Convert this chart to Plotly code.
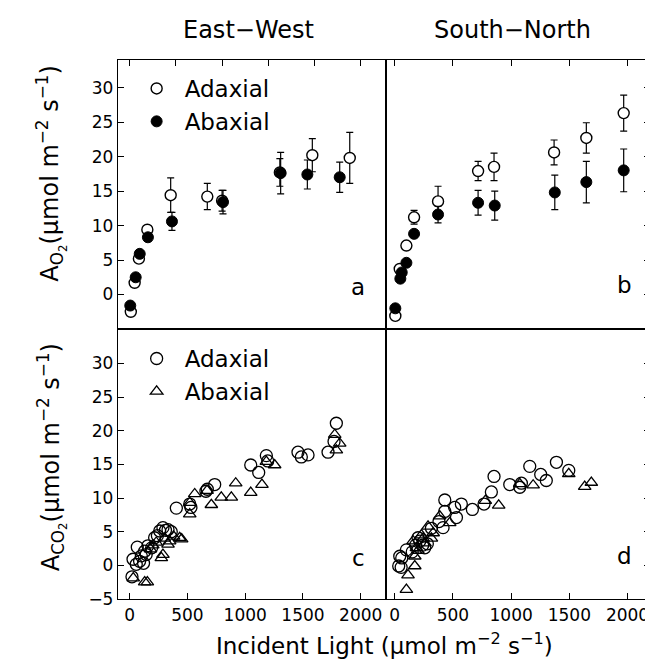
import plotly.graph_objects as go

# ---------------- data ----------------
# Panel a: East-West, O2 evolution
a_ad_x = [10, 43, 80, 153, 355, 672, 800, 1300, 1581, 1905]
a_ad_y = [-2.5, 1.7, 5.2, 9.4, 14.4, 14.2, 13.6, 17.7, 20.2, 19.8]
a_ad_err = [0, 0, 0, 0, 2.5, 1.9, 1.5, 2.0, 2.4, 3.7]
a_ab_x = [5, 52, 87, 158, 366, 808, 1307, 1538, 1818]
a_ab_y = [-1.6, 2.5, 5.9, 8.3, 10.6, 13.4, 17.6, 17.4, 17.0]
a_ab_err = [0, 0, 0, 0, 1.3, 1.7, 3.0, 2.1, 2.2]

# Panel b: South-North, O2 evolution
b_ad_x = [5, 43, 100, 166, 372, 716, 853, 1369, 1646, 1967]
b_ad_y = [-3.1, 3.7, 7.1, 11.2, 13.5, 17.9, 18.5, 20.6, 22.7, 26.3]
b_ad_err = [0, 0, 0, 1.0, 2.2, 1.4, 2.0, 1.8, 2.2, 2.6]
b_ab_x = [5, 48, 60, 100, 166, 372, 716, 859, 1375, 1646, 1967]
b_ab_y = [-2.0, 2.3, 3.2, 4.6, 8.8, 11.6, 13.3, 12.9, 14.8, 16.3, 18.0]
b_ab_err = [0, 0, 0, 0, 0, 1.2, 1.8, 2.1, 2.5, 3.0, 3.1]

# Panel c: East-West, CO2 uptake
c_ad_x = [20, 29, 57, 66, 86, 101, 120, 130, 143, 158, 190, 216, 240, 260, 288, 310,
          332, 360, 404, 520, 530, 660, 672, 736, 1048, 1117, 1183, 1195, 1457, 1486,
          1544, 1717, 1769, 1789]
c_ad_y = [-1.7, 0.9, 0.15, 2.7, 0.6, 1.4, 0.3, 2.1, 1.6, 2.9, 2.6, 4.1, 4.4, 5.1, 5.6, 5.2,
          5.3, 5.0, 8.5, 9.1, 8.6, 11.0, 11.3, 12.0, 14.9, 13.8, 16.3, 15.5, 16.8, 16.1,
          16.4, 16.8, 18.4, 21.1]
c_ab_x = [31, 130, 153, 180, 200, 230, 274, 288, 300, 332, 346, 380, 433, 450, 520, 520,
          563, 670, 707, 793, 880, 918, 1048, 1145, 1183, 1255, 1775, 1789, 1818]
c_ab_y = [-1.9, -2.5, -2.5, 2.4, 3.0, 3.4, 1.1, 1.6, 4.0, 3.1, 3.6, 4.3, 4.1, 3.9, 7.6, 9.3,
          10.6, 11.1, 9.0, 10.1, 10.1, 12.2, 10.8, 12.0, 15.4, 14.9, 19.4, 17.1, 18.1]

# Panel d: South-North, CO2 uptake
d_ad_x = [34, 43, 55, 60, 100, 150, 180, 200, 215, 240, 258, 280, 315, 380, 415, 430, 430,
          515, 530, 572, 667, 767, 830, 853, 988, 1074, 1088, 1160, 1254, 1302, 1389, 1495]
d_ad_y = [-0.1, 1.35, -0.3, 1.1, 2.3, 2.0, 3.0, 4.1, 3.6, 3.0, 2.6, 3.2, 5.5, 6.5, 5.6, 8.0, 9.7,
          8.6, 7.1, 9.1, 8.3, 9.1, 10.9, 13.2, 12.0, 11.6, 12.2, 14.7, 13.5, 12.6, 15.3, 14.1]
d_ab_x = [100, 114, 172, 172, 157, 186, 200, 229, 244, 260, 286, 315, 330, 386, 472, 778, 893,
          1074, 1189, 1495, 1632, 1689]
d_ab_y = [-3.6, -1.45, -0.1, 1.35, 3.6, 2.6, 2.2, 4.5, 4.0, 3.3, 5.8, 4.0, 4.8, 7.3, 6.3, 9.6, 8.9,
          12.1, 11.9, 13.6, 11.7, 12.3]

series_names = ["Adaxial", "Abaxial"]
col_titles = ["East\u2212West", "South\u2212North"]
panel_letters = ["a", "b", "c", "d"]
y_ticks_top = [0, 5, 10, 15, 20, 25, 30]
y_ticks_bottom = [-5, 0, 5, 10, 15, 20, 25, 30]
x_ticks_bottom = [0, 500, 1000, 1500, 2000]
x_ticks_top_left = [0, 400, 800, 1200, 1600, 2000]
x_ticks_top_right = [0, 500, 1000, 1500, 2000]

FONT = "DejaVu Sans"
BLACK = "black"

fig = go.Figure()

def err(arr):
    return dict(type="data", array=arr, visible=True, color=BLACK, thickness=1.2, width=3.5)

# panel a
fig.add_trace(go.Scatter(x=a_ad_x, y=a_ad_y, mode="markers", name=series_names[0],
                         error_y=err(a_ad_err), xaxis="x", yaxis="y", legend="legend",
                         marker=dict(symbol="circle", size=11, color="white",
                                     line=dict(color=BLACK, width=1.4))))
fig.add_trace(go.Scatter(x=a_ab_x, y=a_ab_y, mode="markers", name=series_names[1],
                         error_y=err(a_ab_err), xaxis="x", yaxis="y", legend="legend",
                         marker=dict(symbol="circle", size=11, color=BLACK,
                                     line=dict(color=BLACK, width=1))))
# panel b
fig.add_trace(go.Scatter(x=b_ad_x, y=b_ad_y, mode="markers", showlegend=False,
                         error_y=err(b_ad_err), xaxis="x2", yaxis="y2",
                         marker=dict(symbol="circle", size=11, color="white",
                                     line=dict(color=BLACK, width=1.4))))
fig.add_trace(go.Scatter(x=b_ab_x, y=b_ab_y, mode="markers", showlegend=False,
                         error_y=err(b_ab_err), xaxis="x2", yaxis="y2",
                         marker=dict(symbol="circle", size=11, color=BLACK,
                                     line=dict(color=BLACK, width=1))))
# panel c
fig.add_trace(go.Scatter(x=c_ad_x, y=c_ad_y, mode="markers", name=series_names[0],
                         xaxis="x3", yaxis="y3", legend="legend2",
                         marker=dict(symbol="circle-open", size=12, color=BLACK,
                                     line=dict(color=BLACK, width=1.3))))
fig.add_trace(go.Scatter(x=c_ab_x, y=c_ab_y, mode="markers", name=series_names[1],
                         xaxis="x3", yaxis="y3", legend="legend2",
                         marker=dict(symbol="triangle-up-open", size=11, color=BLACK,
                                     line=dict(color=BLACK, width=1.3))))
# panel d
fig.add_trace(go.Scatter(x=d_ad_x, y=d_ad_y, mode="markers", showlegend=False,
                         xaxis="x4", yaxis="y4",
                         marker=dict(symbol="circle-open", size=12, color=BLACK,
                                     line=dict(color=BLACK, width=1.3))))
fig.add_trace(go.Scatter(x=d_ab_x, y=d_ab_y, mode="markers", showlegend=False,
                         xaxis="x4", yaxis="y4",
                         marker=dict(symbol="triangle-up-open", size=11, color=BLACK,
                                     line=dict(color=BLACK, width=1.3))))

XL = [0, 0.5038]
XR = [0.5038, 1]
YB = [0, 0.5009]
YT = [0.5009, 1]

common = dict(showline=True, mirror=True, linecolor=BLACK, linewidth=1.3,
              ticks="inside", ticklen=6, tickwidth=1, tickcolor=BLACK,
              showgrid=False, zeroline=False,
              tickfont=dict(family=FONT, size=17, color=BLACK))

fig.update_layout(
    width=653, height=662,
    margin=dict(l=110, r=11, t=52, b=71),
    paper_bgcolor="white", plot_bgcolor="white",
    font=dict(family=FONT, color=BLACK),
    xaxis=dict(domain=XL, anchor="y", range=[-101, 2219], side="top",
               tickvals=x_ticks_top_left, showticklabels=False, **common),
    yaxis=dict(domain=YT, anchor="x", range=[-5, 34], tickvals=y_ticks_top, **common),
    xaxis2=dict(domain=XR, anchor="y2", range=[-75, 2193], side="top",
                tickvals=x_ticks_top_right, showticklabels=False, **common),
    yaxis2=dict(domain=YT, anchor="x2", range=[-5, 34], side="right",
                tickvals=y_ticks_top, showticklabels=False, **common),
    xaxis3=dict(domain=XL, anchor="y3", range=[-101, 2219], tickvals=x_ticks_bottom, **common),
    yaxis3=dict(domain=YB, anchor="x3", range=[-5, 35.1], tickvals=y_ticks_bottom, **common),
    xaxis4=dict(domain=XR, anchor="y4", range=[-75, 2193], tickvals=x_ticks_bottom, **common),
    yaxis4=dict(domain=YB, anchor="x4", range=[-5, 35.1], side="right",
                tickvals=y_ticks_bottom, showticklabels=False, **common),
    legend=dict(x=0.02, y=0.987, xanchor="left", yanchor="top", bgcolor="rgba(0,0,0,0)",
                font=dict(family=FONT, size=23, color=BLACK), itemwidth=46),
    legend2=dict(x=0.02, y=0.486, xanchor="left", yanchor="top", bgcolor="rgba(0,0,0,0)",
                 font=dict(family=FONT, size=23, color=BLACK), itemwidth=46),
)

ann = []
for t, xp in zip(col_titles, [0.246, 0.742]):
    ann.append(dict(text=t, x=xp, y=1.056, xref="paper", yref="paper", showarrow=False,
                    xanchor="center", yanchor="middle", font=dict(family=FONT, size=24, color=BLACK)))
for letter, xr, yr, xv, yv in zip(panel_letters, ["x", "x2", "x3", "x4"], ["y", "y2", "y3", "y4"],
                                   [1980, 1976, 1980, 1976], [1.1, 1.4, 1.1, 1.4]):
    ann.append(dict(text=letter, x=xv, y=yv, xref=xr, yref=yr, showarrow=False,
                    xanchor="center", yanchor="middle", font=dict(family=FONT, size=23, color=BLACK)))
ann.append(dict(text="A<sub>O<sub>2</sub></sub>(\u03bcmol m<sup>\u22122</sup> s<sup>\u22121</sup>)",
                x=-0.125, y=0.79, xref="paper", yref="paper", showarrow=False, textangle=-90,
                xanchor="center", yanchor="middle", font=dict(family=FONT, size=24, color=BLACK)))
ann.append(dict(text="A<sub>CO<sub>2</sub></sub>(\u03bcmol m<sup>\u22122</sup> s<sup>\u22121</sup>)",
                x=-0.125, y=0.262, xref="paper", yref="paper", showarrow=False, textangle=-90,
                xanchor="center", yanchor="middle", font=dict(family=FONT, size=24, color=BLACK)))
ann.append(dict(text="Incident Light (\u03bcmol m<sup>\u22122</sup> s<sup>\u22121</sup>)",
                x=0.5, y=-0.083, xref="paper", yref="paper", showarrow=False,
                xanchor="center", yanchor="middle", font=dict(family=FONT, size=23, color=BLACK)))
fig.update_layout(annotations=ann)

fig.write_html("out.html")
